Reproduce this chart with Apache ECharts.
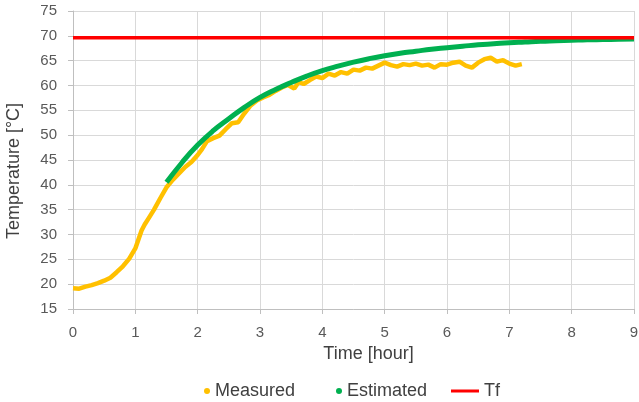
<!DOCTYPE html>
<html>
<head>
<meta charset="utf-8">
<script src="https://cdn.jsdelivr.net/npm/echarts@6/dist/echarts.min.js"></script>
<style>html,body{margin:0;padding:0;background:#fff}#c{width:639px;height:402px}</style>
</head>
<body>
<div id="c"></div>
<script>
var measuredTime = [0.00,0.10,0.20,0.30,0.40,0.50,0.60,0.70,0.80,0.90,1.00,1.05,1.10,1.15,1.20,1.30,1.40,1.50,1.60,1.70,1.80,1.90,2.00,2.07,2.15,2.25,2.35,2.45,2.55,2.65,2.75,2.85,2.95,3.05,3.15,3.25,3.35,3.45,3.55,3.62,3.70,3.80,3.90,4.00,4.10,4.20,4.30,4.40,4.50,4.60,4.70,4.80,4.90,5.00,5.10,5.20,5.30,5.40,5.50,5.60,5.70,5.80,5.90,6.00,6.10,6.20,6.30,6.40,6.50,6.60,6.70,6.80,6.90,7.00,7.10,7.20];
var measuredTemp = [19.2,19.1,19.5,19.8,20.2,20.7,21.3,22.4,23.6,25.1,27.2,29.0,30.8,32.0,33.0,35.0,37.3,39.5,41.0,42.3,43.6,44.6,46.0,47.2,48.8,49.4,49.9,51.2,52.4,52.6,54.4,56.0,57.0,57.6,58.1,58.9,59.6,60.1,59.4,60.7,60.3,61.1,61.8,61.5,62.4,62.0,62.7,62.4,63.2,63.0,63.6,63.4,64.0,64.6,64.1,63.8,64.3,64.1,64.4,64.0,64.2,63.6,64.3,64.2,64.6,64.8,64.0,63.6,64.6,65.3,65.6,64.8,65.1,64.4,64.0,64.3];
var estimatedTime = [1.5,1.75,2.0,2.25,2.5,2.75,3.0,3.25,3.5,3.75,4.0,4.25,4.5,4.75,5.0,5.25,5.5,5.75,6.0,6.25,6.5,6.75,7.0,7.25,7.5,7.75,8.0,8.25,8.5,8.75,9.0];
var estimatedTemp = [40.5,44.5,48.0,50.9,53.3,55.6,57.6,59.2,60.6,61.9,63.0,63.9,64.7,65.4,66.0,66.5,66.9,67.3,67.6,67.9,68.2,68.4,68.6,68.75,68.9,69.0,69.1,69.2,69.25,69.3,69.35];
var tfTime = [0, 9];
var tfTemp = [69.6, 69.6];
var xTitle = 'Time [hour]';
var yTitle = 'Temperature [°C]';

function pairs(a, b) { return a.map(function (v, i) { return [v, b[i]]; }); }

var FONT = 'Liberation Sans';
var chart = echarts.init(document.getElementById('c'), null, {renderer: 'canvas'});
var legendText = {fontFamily: FONT, fontSize: 18, color: '#404040'};
chart.setOption({
  animation: false,
  grid: {left: 73, right: 5, top: 11, bottom: 93, containLabel: false, outerBoundsMode: 'none'},
  legend: [
    {data: ['Measured'], left: 199, top: 377, icon: 'circle', itemWidth: 6, itemHeight: 6, textStyle: legendText},
    {data: ['Estimated'], left: 331, top: 377, icon: 'circle', itemWidth: 6, itemHeight: 6, textStyle: legendText},
    {data: ['Tf'], left: 446, top: 377, icon: 'rect', itemWidth: 28, itemHeight: 3, textStyle: legendText}
  ],
  xAxis: {
    type: 'value', min: 0, max: 9, interval: 1,
    name: xTitle, nameLocation: 'middle', nameGap: 32,
    nameTextStyle: {fontFamily: FONT, fontSize: 18, color: '#404040', padding: [0, 0, 0, 30]},
    axisLine: {show: true, lineStyle: {color: '#BFBFBF', width: 1}},
    axisTick: {show: true, length: 5, lineStyle: {color: '#BFBFBF'}},
    axisLabel: {fontFamily: FONT, fontSize: 15, color: '#595959', margin: 16},
    splitLine: {show: true, lineStyle: {color: '#D9D9D9', width: 1}}
  },
  yAxis: {
    type: 'value', min: 15, max: 75, interval: 5,
    name: yTitle, nameLocation: 'middle', nameGap: 50,
    nameTextStyle: {fontFamily: FONT, fontSize: 18, color: '#404040', padding: [0, 22, 0, 0]},
    axisLine: {show: true, lineStyle: {color: '#BFBFBF', width: 1}},
    axisTick: {show: true, length: 5, lineStyle: {color: '#BFBFBF'}},
    axisLabel: {fontFamily: FONT, fontSize: 15, color: '#595959', margin: 16},
    splitLine: {show: true, lineStyle: {color: '#D9D9D9', width: 1}}
  },
  series: [
    {name: 'Measured', type: 'line', data: pairs(measuredTime, measuredTemp), showSymbol: false, symbol: 'circle',
     itemStyle: {color: '#FFC000'}, lineStyle: {color: '#FFC000', width: 4.5}, z: 3},
    {name: 'Estimated', type: 'line', data: pairs(estimatedTime, estimatedTemp), showSymbol: false, symbol: 'circle', smooth: true,
     itemStyle: {color: '#00B050'}, lineStyle: {color: '#00B050', width: 5}, z: 4},
    {name: 'Tf', type: 'line', data: pairs(tfTime, tfTemp), showSymbol: false,
     itemStyle: {color: '#FF0000'}, lineStyle: {color: '#FF0000', width: 3.5}, z: 5}
  ]
});
</script>
</body>
</html>
